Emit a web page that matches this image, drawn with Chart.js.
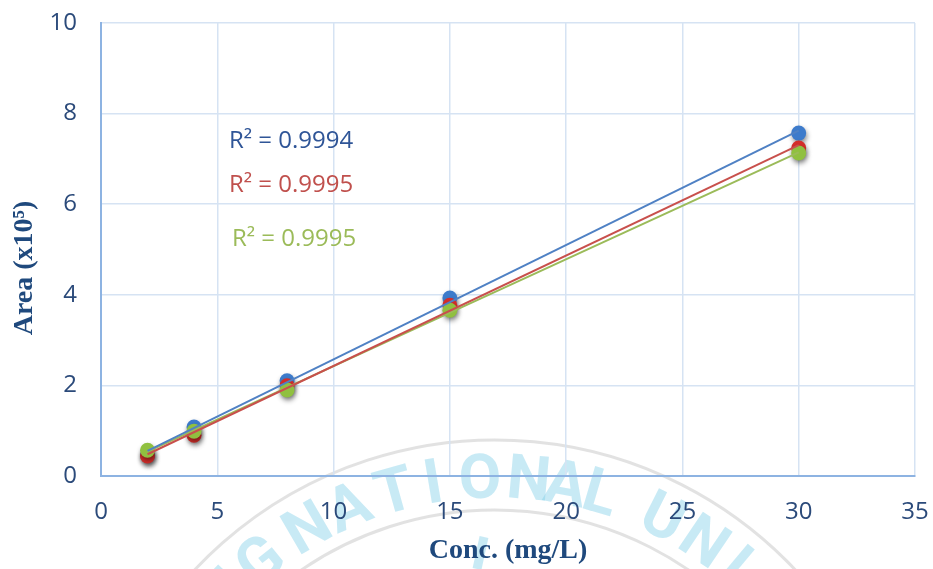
<!DOCTYPE html>
<html>
<head>
<meta charset="utf-8">
<script src="https://cdn.jsdelivr.net/npm/chart.js@4.4.1/dist/chart.umd.min.js"></script>
<style>
  html, body { margin: 0; padding: 0; background: #fff; }
  #wrap { width: 933px; height: 569px; }
</style>
</head>
<body>
<div id="wrap"><canvas id="c"></canvas></div>
<script>
// concentrations (mg/L)
const conc = [2, 4, 8, 15, 30];
// peak area (x10^5) per series
const blueArea = [0.46, 1.08, 2.10, 3.93, 7.57];
const redArea = [0.44, 0.90, 1.99, 3.77, 7.24];
const greenArea = [0.57, 0.99, 1.90, 3.66, 7.13];
const r2Labels = ['R² = 0.9994', 'R² = 0.9995', 'R² = 0.9995'];
const xTicks = [0, 5, 10, 15, 20, 25, 30, 35];
const yTicks = [0, 2, 4, 6, 8, 10];

const tickFont = { family: '"Open Sans", sans-serif', size: 24 };

// least squares line, from first to last x
function fit(xs, ys) {
  const n = xs.length;
  const mx = xs.reduce((a, b) => a + b, 0) / n;
  const my = ys.reduce((a, b) => a + b, 0) / n;
  let sxy = 0, sxx = 0;
  xs.forEach((x, i) => { sxy += (x - mx) * (ys[i] - my); sxx += (x - mx) ** 2; });
  const m = sxy / sxx, b = my - m * mx;
  return [{ x: xs[0], y: m * xs[0] + b }, { x: xs[n - 1], y: m * xs[n - 1] + b }];
}
const pts = ys => conc.map((x, i) => ({ x, y: ys[i] }));

function pointSet(ys, dot, order) {
  return { type: 'scatter', data: pts(ys), backgroundColor: dot, borderColor: dot,
    pointRadius: 7.5, pointHoverRadius: 7.5, borderWidth: 0, showLine: false, order, isPoint: true };
}
function lineSet(ys, c) {
  return { type: 'line', data: fit(conc, ys), borderColor: c, borderWidth: 2, pointRadius: 0,
    fill: false, showLine: true, order: 0 };
}

const shadowPlugin = {
  id: 'shadow',
  beforeDatasetDraw(chart, args) {
    const ctx = chart.ctx;
    ctx.save();
    if (chart.data.datasets[args.index].isPoint) {
      ctx.shadowColor = 'rgba(0,0,0,0.45)';
      ctx.shadowBlur = 5;
      ctx.shadowOffsetX = 1;
      ctx.shadowOffsetY = 3;
    }
  },
  afterDatasetDraw(chart) { chart.ctx.restore(); }
};

// faint scanned seal in the background
const sealLetters = [['N', -46.5], ['G', -38.9], ['N', -30.1], ['A', -23.0], ['T', -15.6], ['I', -9.5],
  ['O', -2.3], ['N', 5.2], ['A', 10.9], ['L', 16.4], ['U', 26.7], ['N', 34.0], ['I', 40.0]];
const watermark = {
  id: 'watermark',
  beforeDraw(chart) {
    const ctx = chart.ctx;
    const cx = 495, cy = 852;
    ctx.save();
    ctx.strokeStyle = 'rgba(140,140,140,0.25)';
    ctx.lineWidth = 3;
    ctx.beginPath(); ctx.arc(cx, cy, 412, Math.PI * 1.15, Math.PI * 1.85); ctx.stroke();
    ctx.beginPath(); ctx.arc(cx, cy, 342, Math.PI * 1.15, Math.PI * 1.85); ctx.stroke();
    ctx.fillStyle = 'rgba(125,205,232,0.42)';
    ctx.font = 'bold 62px Roboto';
    ctx.textAlign = 'center';
    ctx.textBaseline = 'middle';
    sealLetters.forEach(([ch, deg]) => {
      const a = deg * Math.PI / 180;
      ctx.save();
      ctx.translate(cx + 372 * Math.sin(a), cy - 372 * Math.cos(a));
      ctx.rotate(a);
      ctx.fillText(ch, 0, 2);
      ctx.restore();
    });
    ctx.strokeStyle = 'rgba(125,205,232,0.42)';
    ctx.lineWidth = 9;
    ctx.beginPath(); ctx.moveTo(484, 537); ctx.lineTo(477, 569); ctx.stroke();
    ctx.restore();
  }
};

const labelsPlugin = {
  id: 'labels',
  afterDraw(chart) {
    const { ctx, scales: { x, y } } = chart;
    const spots = [[5.5, 7.40, '#2f5597'], [5.5, 6.42, '#c0504d'], [5.63, 5.23, '#9bbb59']];
    ctx.save();
    ctx.font = '24px "Open Sans"';
    ctx.textAlign = 'left';
    ctx.textBaseline = 'middle';
    spots.forEach((s, i) => {
      ctx.fillStyle = s[2];
      ctx.fillText(r2Labels[i], x.getPixelForValue(s[0]), y.getPixelForValue(s[1]));
    });
    // y axis title
    ctx.translate(25, 268);
    ctx.rotate(-Math.PI / 2);
    ctx.textAlign = 'center';
    ctx.fillStyle = '#1f497d';
    ctx.font = 'bold 28px "Liberation Serif"';
    ctx.fillText('Area (x10⁵)', 0, 0);
    ctx.restore();
  }
};

new Chart(document.getElementById('c'), {
  type: 'scatter',
  data: {
    datasets: [
      lineSet(blueArea, '#4f81c4'),
      lineSet(redArea, '#c8504c'),
      lineSet(greenArea, '#9bbb59'),
      pointSet(greenArea, '#90c040', 1),
      pointSet(redArea, '#d42e2a', 2),
      pointSet(blueArea, '#3d7bcb', 3)
    ]
  },
  options: {
    responsive: true,
    maintainAspectRatio: false,
    animation: false,
    layout: { autoPadding: false, padding: { left: 0, right: 18, top: 23, bottom: 0 } },
    plugins: { legend: { display: false }, tooltip: { enabled: false } },
    scales: {
      x: {
        type: 'linear', min: 0, max: 35,
        afterBuildTicks: s => { s.ticks = xTicks.map(v => ({ value: v })); },
        afterFit: s => { s.height = 93; s.paddingLeft = 0; s.paddingRight = 0; },
        grid: { color: '#d6e3f3', lineWidth: 1.5, drawTicks: false },
        border: { color: '#8db3e2', width: 2 },
        ticks: { color: '#2b4a7a', font: tickFont, padding: 22 },
        title: { display: true, text: 'Conc. (mg/L)', color: '#1f497d',
          font: { family: 'Liberation Serif', size: 28, weight: 'bold' }, padding: { top: 0, bottom: 1 } }
      },
      y: {
        type: 'linear', min: 0, max: 10,
        afterBuildTicks: s => { s.ticks = yTicks.map(v => ({ value: v })); },
        afterFit: s => { s.width = 101; s.paddingTop = 0; s.paddingBottom = 0; },
        grid: { color: '#d6e3f3', lineWidth: 1.5, drawTicks: false },
        border: { color: '#8db3e2', width: 2 },
        ticks: { color: '#2b4a7a', font: tickFont, padding: 24 }
      }
    }
  },
  plugins: [watermark, shadowPlugin, labelsPlugin]
});
</script>
</body>
</html>
